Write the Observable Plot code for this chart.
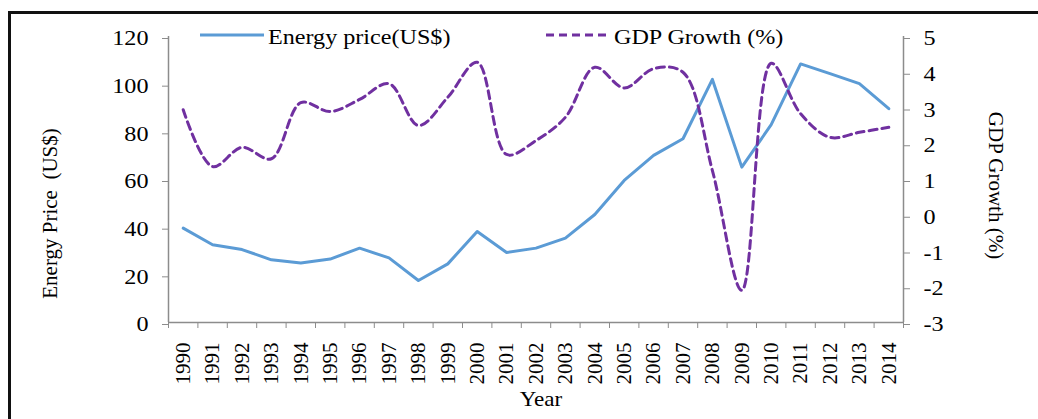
<!DOCTYPE html>
<html><head><meta charset="utf-8">
<script src="https://cdn.jsdelivr.net/npm/d3@7"></script>
<script src="https://cdn.jsdelivr.net/npm/@observablehq/plot@0.6"></script>
<style>
body{margin:0;background:#fff;}
#wrap{position:relative;width:1038px;height:419px;overflow:hidden;font-family:"Liberation Serif",serif;background:#fff;}
#frame{position:absolute;left:8px;top:11px;width:1100px;height:500px;border-left:3px solid #111;border-top:3px solid #111;}
#chart{position:absolute;left:0;top:0;}
#legend{position:absolute;left:0;top:0;}
svg text{white-space:pre;}
</style></head><body>
<div id="wrap"><div id="frame"></div><div id="chart"></div><svg id="legend" width="1038" height="419"></svg></div>
<script>
const years = [1990,1991,1992,1993,1994,1995,1996,1997,1998,1999,2000,2001,2002,2003,2004,2005,2006,2007,2008,2009,2010,2011,2012,2013,2014];
const energyPrice = [39.6,32.6,30.6,26.3,25.0,26.6,31.2,27.1,17.6,24.6,38.2,29.4,31.2,35.4,45.3,59.6,70.1,77.1,102.0,65.2,83.0,108.5,104.4,100.2,89.7];
const gdpGrowth = [2.95,1.36,1.90,1.58,3.15,2.90,3.24,3.68,2.51,3.30,4.28,1.70,2.09,2.74,4.14,3.56,4.10,4.00,1.25,-2.10,4.25,2.84,2.18,2.32,2.46];
const priceTicks = [0,20,40,60,80,100,120];
const gdpTicks = [-3,-2,-1,0,1,2,3,4,5];
const seriesNames = ["Energy price(US$)", "GDP Growth (%)"];
const seriesColors = ["#5B9BD5", "#7030A0"];
const leftTitle = "Energy Price  (US$)";
const rightTitle = "GDP Growth (%)";
const bottomTitle = "Year";

const data = years.map((y,i)=>({year:y, price:energyPrice[i], gdp:gdpGrowth[i]}));
const gMin = d3.min(gdpTicks), gMax = d3.max(gdpTicks), pMax = d3.max(priceTicks);
const toLeft = g => (g - gMin) * pMax / (gMax - gMin);
const fromLeft = v => Math.round(v * (gMax - gMin) / pMax + gMin);
const bounds = [...years.map(y=>y-0.5), years[years.length-1]+0.5];
const FONT = '"Liberation Serif", serif';
const dash = "8,5";

const plot = Plot.plot({
  width:1038, height:419, marginLeft:168, marginRight:135, marginTop:36, marginBottom:97,
  style:{fontFamily:FONT, fontSize:"21px", color:"#000", background:"transparent", overflow:"visible"},
  x:{domain:[bounds[0], bounds[bounds.length-1]]},
  y:{domain:[0,pMax]},
  marks:[
    Plot.axisY(priceTicks,{anchor:"left", tickSize:6, tickPadding:14, stroke:"#8c8c8c", fill:"#000", label:null, dy:2}),
    Plot.axisY(gdpTicks.map(toLeft),{anchor:"right", tickSize:6, tickPadding:14, tickFormat:d=>String(fromLeft(d)), stroke:"#8c8c8c", fill:"#000", label:null, dy:2}),
    Plot.axisX(bounds,{anchor:"bottom", tickSize:6, tickFormat:()=>"", stroke:"#8c8c8c", label:null}),
    Plot.axisX(years,{anchor:"bottom", tickSize:0, tickPadding:20, tickRotate:-90, tickFormat:d=>String(d), fill:"#000", label:null}),
    Plot.ruleY([0],{stroke:"#8c8c8c", strokeWidth:1.5}),
    Plot.ruleX([bounds[0], bounds[bounds.length-1]],{stroke:"#8c8c8c", strokeWidth:1.5}),
    Plot.line(data,{x:"year", y:"price", stroke:seriesColors[0], strokeWidth:3}),
    Plot.line(data,{x:"year", y:d=>toLeft(d.gdp), stroke:seriesColors[1], strokeWidth:3, strokeDasharray:dash, curve:"catmull-rom"}),
    Plot.text([leftTitle],{text:d=>d, frameAnchor:"left", textAnchor:"middle", lineAnchor:"middle", dx:-118, dy:34, rotate:-90, fontSize:21, fill:"#000"}),
    Plot.text([rightTitle],{text:d=>d, frameAnchor:"right", textAnchor:"middle", lineAnchor:"middle", dx:92, dy:6, rotate:90, fontSize:21, fill:"#000"}),
    Plot.text([bottomTitle],{text:d=>d, frameAnchor:"bottom", textAnchor:"middle", lineAnchor:"middle", dx:5, dy:77, fontSize:21, fill:"#000"})
  ]
});
document.getElementById("chart").append(plot);

function stretch(t, k){
  const L = t.getComputedTextLength();
  t.setAttribute("textLength", L*k);
  t.setAttribute("lengthAdjust","spacingAndGlyphs");
}
plot.querySelectorAll('g[aria-label="y-axis tick label"] text').forEach(t=>stretch(t,1.15));
plot.querySelectorAll('text').forEach(t=>{ if (t.textContent === bottomTitle) stretch(t,1.1); });

// legend
const leg = d3.select("#legend");
const legX = [200, 546];
seriesNames.forEach((name,i)=>{
  const x0 = legX[i];
  leg.append("line").attr("x1",x0).attr("x2",x0+64).attr("y1",35).attr("y2",35)
    .attr("stroke",seriesColors[i]).attr("stroke-width",3)
    .attr("stroke-dasharray", i===1 ? dash : null);
  leg.append("text").attr("transform",`translate(${x0+68},43.5) scale(1.15,1)`)
    .attr("font-family",FONT).attr("font-size",21).attr("fill","#000").text(name);
});
</script>
</body></html>
